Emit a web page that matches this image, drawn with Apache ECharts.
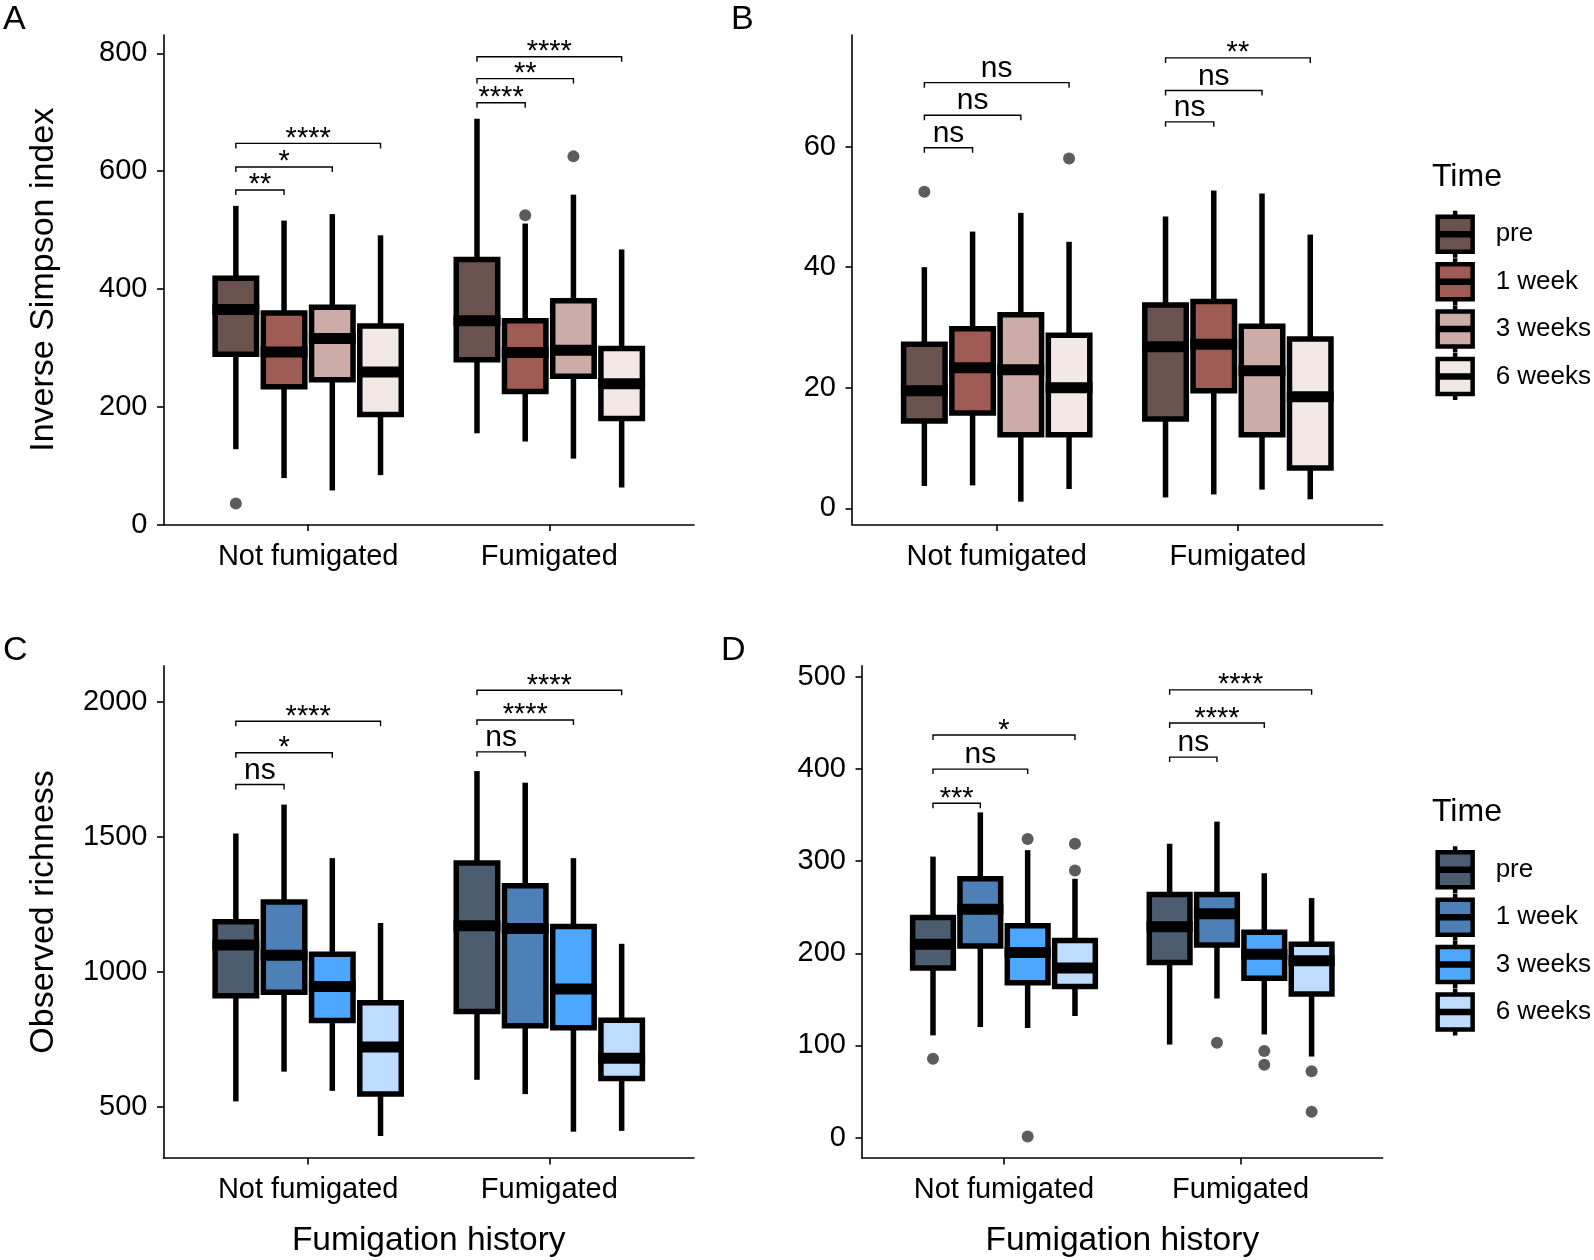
<!DOCTYPE html>
<html>
<head>
<meta charset="utf-8">
<script src="https://cdn.jsdelivr.net/npm/echarts@6/dist/echarts.min.js"></script>
<style>
    html, body {margin: 0; background: #fff;}
    #chart {width: 1594px; height: 1260px;}
</style>
</head>
<body>
<div id="chart"></div>
<script>
var FONT = "'Liberation Sans', Arial, sans-serif";

var groups = ['Not fumigated', 'Fumigated'];
var times = ['pre', '1 week', '3 weeks', '6 weeks'];
var dodge = [-0.3, -0.1, 0.1, 0.3];

var brownFill = ['#6a524f', '#9e5c54', '#cdaca8', '#f2e9e7'];
var blueFill = ['#4d5d70', '#4c80b7', '#4da6ff', '#bedcff'];

// each box: [low whisker, Q1, median, Q3, high whisker], for Not fumigated / Fumigated
var simpsonStats = [
    [[128, 289, 365, 418, 541], [155, 280, 346, 450, 689]],   // pre
    [[79, 234, 293, 359, 516], [141, 226, 292, 346, 511]],    // 1 week
    [[58, 246, 316, 369, 527], [112, 252, 296, 380, 560]],    // 3 weeks
    [[84, 187, 259, 337, 491], [63, 180, 239, 299, 467]]      // 6 weeks
];
// [time, group, value]
var simpsonOutliers = [[0, 0, 36], [1, 1, 525], [2, 1, 625]];
// [group, compared time, height, label] (always against pre)
var simpsonBrackets = [[0, 1, 568, '**'], [0, 2, 607, '*'], [0, 3, 647, '****'],
    [1, 1, 716, '****'], [1, 2, 757, '**'], [1, 3, 794, '****']];
var simpsonTicks = [0, 200, 400, 600, 800];

var panelBStats = [
    [[3.7, 14.5, 19.5, 27.2, 40.0], [1.8, 14.8, 26.8, 33.7, 48.4]],
    [[3.8, 15.8, 23.3, 29.8, 45.9], [2.3, 19.5, 27.2, 34.3, 52.7]],
    [[1.1, 12.2, 23.0, 32.1, 49.0], [3.1, 12.2, 22.8, 30.2, 52.2]],
    [[3.2, 12.2, 20.0, 28.7, 44.2], [1.5, 6.7, 18.5, 28.1, 45.4]]
];
var panelBOutliers = [[0, 0, 52.5], [3, 0, 58.0]];
var panelBBrackets = [[0, 1, 59.8, 'ns'], [0, 2, 65.2, 'ns'], [0, 3, 70.6, 'ns'],
    [1, 1, 64.1, 'ns'], [1, 2, 69.3, 'ns'], [1, 3, 74.7, '**']];
var panelBTicks = [0, 20, 40, 60];

var richnessStats = [
    [[521, 912, 1100, 1186, 1512], [601, 854, 1171, 1403, 1743]],
    [[631, 925, 1062, 1259, 1619], [548, 801, 1161, 1319, 1700]],
    [[560, 820, 946, 1065, 1421], [409, 793, 937, 1168, 1421]],
    [[393, 548, 722, 886, 1181], [412, 606, 681, 821, 1104]]
];
var richnessOutliers = [];
var richnessBrackets = [[0, 1, 1693, 'ns'], [0, 2, 1811, '*'], [0, 3, 1927, '****'],
    [1, 1, 1814, 'ns'], [1, 2, 1932, '****'], [1, 3, 2042, '****']];
var richnessTicks = [500, 1000, 1500, 2000];

var panelDStats = [
    [[111, 184, 210, 239, 305], [101, 190, 229, 264, 319]],
    [[120, 208, 248, 281, 353], [151, 209, 243, 264, 343]],
    [[119, 168, 201, 230, 312], [112, 173, 199, 223, 287]],
    [[132, 164, 184, 214, 281], [88, 156, 192, 210, 260]]
];
var panelDOutliers = [[0, 0, 85.6], [2, 0, 324], [2, 0, 1.3], [3, 0, 319], [3, 0, 290],
    [1, 1, 103], [2, 1, 94], [2, 1, 79], [3, 1, 72], [3, 1, 28]];
var panelDBrackets = [[0, 1, 363, '***'], [0, 2, 400, 'ns'], [0, 3, 437, '*'],
    [1, 1, 413, 'ns'], [1, 2, 450, '****'], [1, 3, 486, '****']];
var panelDTicks = [0, 100, 200, 300, 400, 500];

function drawBox(params, api) {
    var x = api.value(0);
    var half = api.size([0.086, 0])[0];
    var lo = api.coord([x, api.value(1)]);
    var q1 = api.coord([x, api.value(2)]);
    var md = api.coord([x, api.value(3)]);
    var q3 = api.coord([x, api.value(4)]);
    var hi = api.coord([x, api.value(5)]);
    var cx = lo[0];
    return {
        type: 'group',
        children: [
            {type: 'line', shape: {x1: cx, y1: hi[1], x2: cx, y2: q3[1]}, style: {stroke: '#000', lineWidth: 5.5}},
            {type: 'line', shape: {x1: cx, y1: q1[1], x2: cx, y2: lo[1]}, style: {stroke: '#000', lineWidth: 5.5}},
            {
                type: 'rect',
                shape: {x: cx - half, y: q3[1], width: half * 2, height: q1[1] - q3[1]},
                style: {fill: api.visual('color'), stroke: '#000', lineWidth: 5.5}
            },
            {
                type: 'line',
                shape: {x1: cx - half - 2.7, y1: md[1], x2: cx + half + 2.7, y2: md[1]},
                style: {stroke: '#000', lineWidth: 11}
            }
        ]
    };
}

function bracketRenderer(list) {
    return function (params, api) {
        var b = list[params.dataIndex];
        var a = api.coord([api.value(0), api.value(2)]);
        var c = api.coord([api.value(1), api.value(2)]);
        var star = b[3].charAt(0) === '*';
        return {
            type: 'group',
            children: [
                {
                    type: 'polyline',
                    shape: {points: [[a[0], a[1] + 5], [a[0], a[1]], [c[0], c[1]], [c[0], c[1] + 5]]},
                    style: {stroke: '#000', lineWidth: 1.4, fill: null}
                },
                {
                    type: 'text',
                    x: (a[0] + c[0]) / 2,
                    y: a[1] - (star ? 4.5 : 14),
                    style: {
                        text: b[3], fontSize: star ? 29 : 30, fontFamily: FONT, fill: '#000',
                        align: 'center', verticalAlign: 'middle'
                    }
                }
            ]
        };
    };
}

function panelSeries(gi, stats, outliers, brackets, palette) {
    var list = [];
    for (var t = 0; t < times.length; t++) {
        list.push({
            name: times[t],
            type: 'custom',
            xAxisIndex: gi,
            yAxisIndex: gi,
            itemStyle: {color: palette[t]},
            renderItem: drawBox,
            data: stats[t].map(function (s, g) {
                return [g + 1 + dodge[t]].concat(s);
            }),
            z: 2
        });
    }
    list.push({
        type: 'scatter',
        xAxisIndex: gi,
        yAxisIndex: gi,
        symbolSize: 12,
        itemStyle: {color: '#333'},
        data: outliers.map(function (o) {
            return [o[1] + 1 + dodge[o[0]], o[2]];
        }),
        z: 3
    });
    list.push({
        type: 'custom',
        xAxisIndex: gi,
        yAxisIndex: gi,
        renderItem: bracketRenderer(brackets),
        data: brackets.map(function (b) {
            return [b[0] + 1 + dodge[0], b[0] + 1 + dodge[b[1]], b[2]];
        }),
        z: 4
    });
    return list;
}

function xAxisFor(gi, named) {
    return {
        type: 'value', gridIndex: gi, min: 0.4, max: 2.6,
        axisLine: {onZero: false, lineStyle: {color: '#000', width: 1.6}},
        axisTick: {length: 6.5, customValues: [1, 2], lineStyle: {color: '#000', width: 1.6}},
        axisLabel: {
            customValues: [1, 2], margin: 17.5, fontSize: 29, color: '#000', fontFamily: FONT,
            formatter: function (v) {
                return groups[Math.round(v) - 1];
            }
        },
        splitLine: {show: false},
        name: named ? 'Fumigation history' : '',
        nameLocation: 'middle',
        nameGap: 66,
        nameTextStyle: {fontSize: 33.5, color: '#000', fontFamily: FONT}
    };
}

function yAxisFor(gi, min, max, ticks, name) {
    return {
        type: 'value', gridIndex: gi, min: min, max: max,
        axisLine: {show: true, onZero: false, lineStyle: {color: '#000', width: 1.6}},
        axisTick: {show: true, length: 6.5, customValues: ticks, lineStyle: {color: '#000', width: 1.6}},
        axisLabel: {
            customValues: ticks, margin: 16, fontSize: 29, color: '#000', fontFamily: FONT,
            formatter: function (v) {
                return String(v);
            }
        },
        splitLine: {show: false},
        name: name,
        nameLocation: 'middle',
        nameGap: 103,
        nameTextStyle: {fontSize: 34, color: '#000', fontFamily: FONT}
    };
}

var legendIcon = 'path://M20,0L20,6M2.5,6L37.5,6L37.5,41L2.5,41ZM2.5,22.5L37.5,22.5L37.5,24.5L2.5,24.5ZM20,41L20,47';

function legendFor(top, palette) {
    return {
        orient: 'vertical', left: 1430.4, top: top,
        icon: legendIcon, itemWidth: 35, itemHeight: 47, itemGap: -4.1,
        selectedMode: false,
        itemStyle: {borderColor: '#000', borderWidth: 4.5},
        textStyle: {fontSize: 26, color: '#000', fontFamily: FONT, padding: [0, 0, 0, 18]},
        data: times.map(function (t, i) {
            return {name: t, itemStyle: {color: palette[i], borderColor: '#000', borderWidth: 4.5}};
        })
    };
}

function titleText(text, left, top, size) {
    return {
        text: text, left: left, top: top, padding: 0,
        textStyle: {fontSize: size, fontWeight: 'normal', color: '#000', fontFamily: FONT}
    };
}

var myChart = echarts.init(document.getElementById('chart'));

var option = {
    animation: false,
    backgroundColor: '#fff',
    title: [
        titleText('A', 3, 3, 34),
        titleText('B', 731, 3, 34),
        titleText('C', 3, 634, 34),
        titleText('D', 721, 634, 34),
        titleText('Time', 1432, 161, 32),
        titleText('Time', 1432, 796, 32)
    ],
    legend: [legendFor(203.5, brownFill), legendFor(839, blueFill)],
    grid: [
        {left: 163.5, top: 35, width: 530.5, height: 489.6},
        {left: 852, top: 35, width: 530.6, height: 489.6},
        {left: 163.5, top: 665.9, width: 530.5, height: 492},
        {left: 862, top: 665.9, width: 520.6, height: 492}
    ],
    xAxis: [xAxisFor(0, false), xAxisFor(1, false), xAxisFor(2, true), xAxisFor(3, true)],
    yAxis: [
        yAxisFor(0, 0, 831, simpsonTicks, 'Inverse Simpson index'),
        yAxisFor(1, -2.7, 78.5, panelBTicks, ''),
        yAxisFor(2, 312, 2132, richnessTicks, 'Observed richness'),
        yAxisFor(3, -22, 512, panelDTicks, '')
    ],
    series: [].concat(
        panelSeries(0, simpsonStats, simpsonOutliers, simpsonBrackets, brownFill),
        panelSeries(1, panelBStats, panelBOutliers, panelBBrackets, brownFill),
        panelSeries(2, richnessStats, richnessOutliers, richnessBrackets, blueFill),
        panelSeries(3, panelDStats, panelDOutliers, panelDBrackets, blueFill)
    )
};

myChart.setOption(option);
</script>
</body>
</html>
